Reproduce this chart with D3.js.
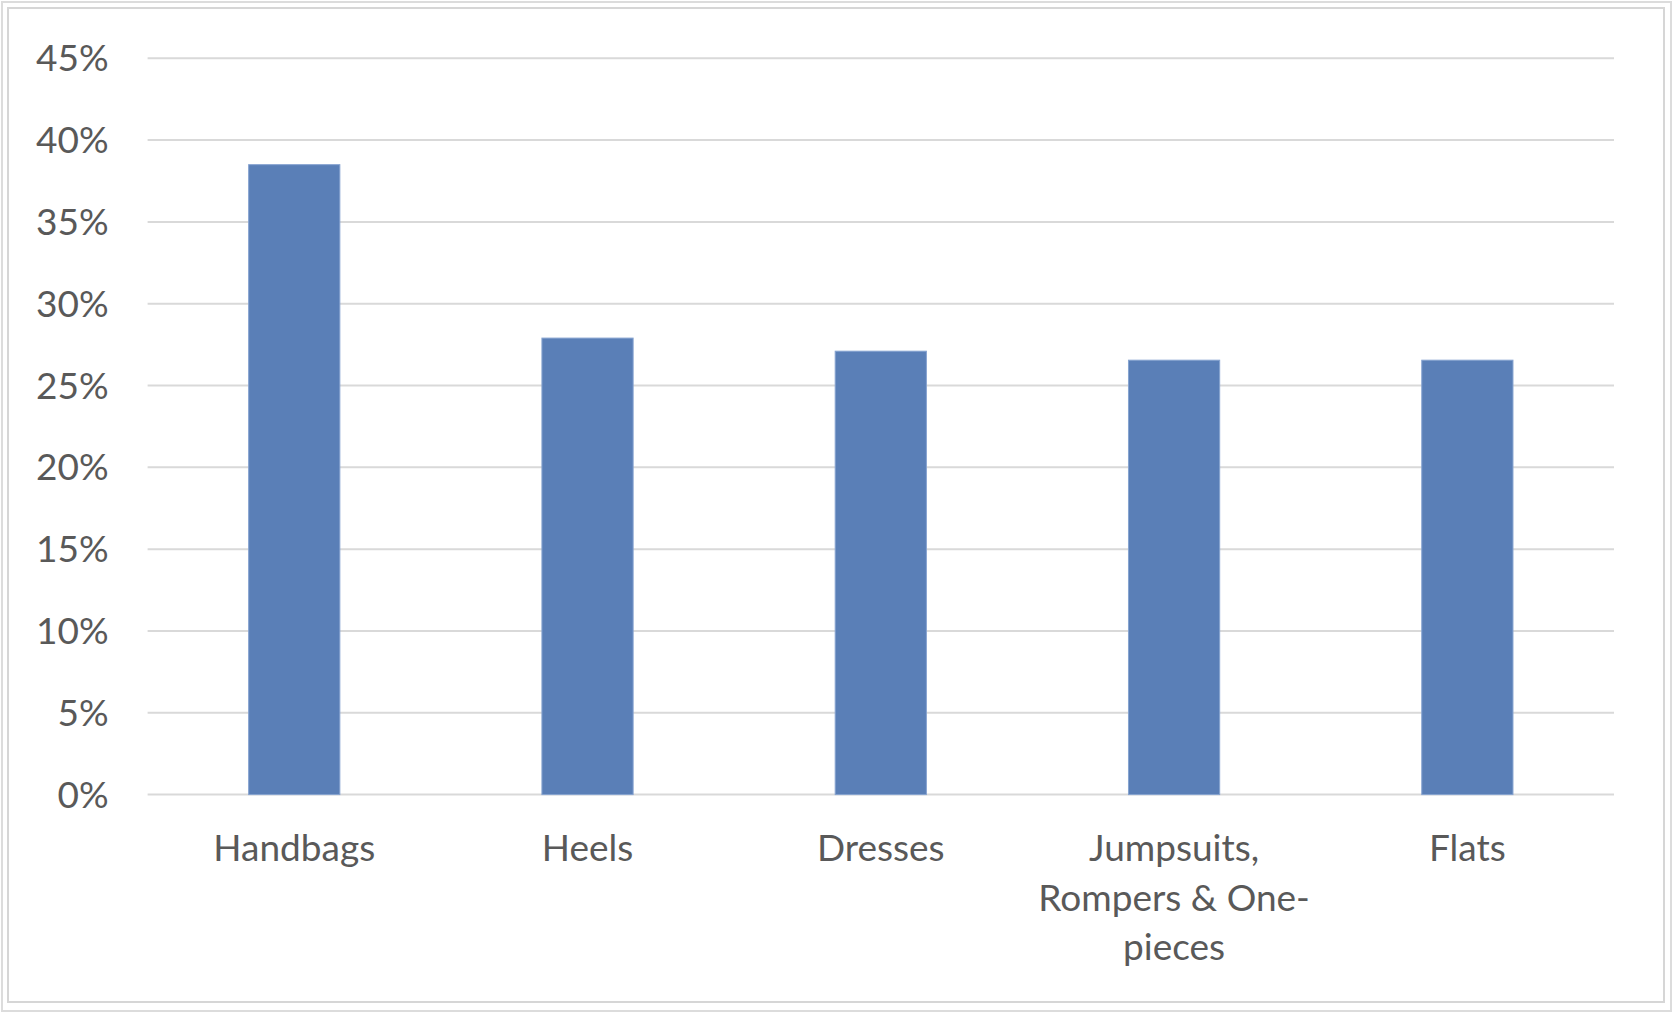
<!DOCTYPE html>
<html>
<head>
<meta charset="utf-8">
<script src="https://cdn.jsdelivr.net/npm/d3@7"></script>
<style>
    body { margin: 0; background: #fff; }
    text { font-family: Lato, "Open Sans", sans-serif; fill: #595959; }
</style>
</head>
<body>
<div id="chart"></div>
<script>
// chart values
var categories = ["Handbags", "Heels", "Dresses", "Jumpsuits, Rompers & One-pieces", "Flats"];
var shares = [0.385, 0.279, 0.271, 0.2655, 0.2655];
var yTicks = [0, 0.05, 0.10, 0.15, 0.20, 0.25, 0.30, 0.35, 0.40, 0.45];

// set the dimensions and margins of the graph
var totalWidth = 1676, totalHeight = 1014;
var margin = {top: 58.3, right: 62, bottom: 219.4, left: 147.6},
    width = totalWidth - margin.left - margin.right,
    height = totalHeight - margin.top - margin.bottom;

var svg = d3.select("#chart").append("svg")
    .attr("width", totalWidth)
    .attr("height", totalHeight);

// double frame round the chart area
svg.append("rect")
    .attr("x", 2).attr("y", 2)
    .attr("width", 1669).attr("height", 1009)
    .attr("fill", "#fff")
    .attr("stroke", "#dcdcdc")
    .attr("stroke-width", 2);
svg.append("rect")
    .attr("x", 8).attr("y", 8)
    .attr("width", 1656).attr("height", 994)
    .attr("fill", "#fff")
    .attr("stroke", "#d6d6d6")
    .attr("stroke-width", 2);

var g = svg.append("g")
    .attr("transform", "translate(" + margin.left + "," + margin.top + ")");

var x = d3.scaleBand().domain(categories).range([0, width]).padding(0);
var y = d3.scaleLinear().domain([0, 0.45]).range([height, 0]);

// gridlines
g.append("g")
    .selectAll("line")
    .data(yTicks)
    .enter()
    .append("line")
    .attr("x1", 0)
    .attr("x2", width)
    .attr("y1", d => y(d))
    .attr("y2", d => y(d))
    .attr("stroke", "#d9d9d9")
    .attr("stroke-width", 2);

// Y axis labels
var yAxis = g.append("g")
    .call(d3.axisLeft(y).tickValues(yTicks).tickSize(0).tickPadding(39).tickFormat(d3.format(".0%")));
yAxis.select(".domain").remove();
yAxis.selectAll("text")
    .attr("dy", "0.34em")
    .style("font-size", "37px")
    .style("fill", "#595959");

// bars
var barWidth = x.bandwidth() * 0.311;
g.append("g")
    .selectAll("rect")
    .data(categories)
    .enter()
    .append("rect")
    .attr("x", d => x(d) + (x.bandwidth() - barWidth) / 2)
    .attr("y", (d, i) => y(shares[i]))
    .attr("width", barWidth)
    .attr("height", (d, i) => height - y(shares[i]))
    .attr("fill", "#5a7fb7")
    .attr("stroke", "#86a3d0")
    .attr("stroke-width", 1);

// X axis labels, wrapped to the band width
var xAxis = g.append("g")
    .attr("transform", "translate(0," + height + ")")
    .call(d3.axisBottom(x).tickSize(0).tickPadding(0));
xAxis.select(".domain").remove();
xAxis.selectAll("text")
    .style("font-size", "37px")
    .style("fill", "#595959")
    .attr("y", 66.6)
    .attr("dy", 0)
    .call(wrap, x.bandwidth());

function wrap(texts, maxWidth) {
    texts.each(function () {
        var text = d3.select(this);
        // split after spaces and hyphens
        var words = text.text().match(/[^\s-]+-?/g);
        var yPos = text.attr("y");
        text.text(null);
        var lineNo = 0;
        var line = [];
        var tspan = text.append("tspan").attr("x", 0).attr("y", yPos).attr("dy", 0);
        words.forEach(function (w, i) {
            var sep = (line.length && !/-$/.test(line[line.length - 1])) ? " " : "";
            line.push(w);
            tspan.text(joinLine(line));
            if (tspan.node().getComputedTextLength() > maxWidth && line.length > 1) {
                line.pop();
                tspan.text(joinLine(line));
                line = [w];
                lineNo++;
                tspan = text.append("tspan").attr("x", 0).attr("y", yPos)
                    .attr("dy", (lineNo * 49.5) + "px").text(w);
            }
        });
    });
}

function joinLine(parts) {
    var s = "";
    parts.forEach(function (p, i) {
        if (i > 0 && !/-$/.test(parts[i - 1])) s += " ";
        s += p;
    });
    return s;
}
</script>
</body>
</html>
